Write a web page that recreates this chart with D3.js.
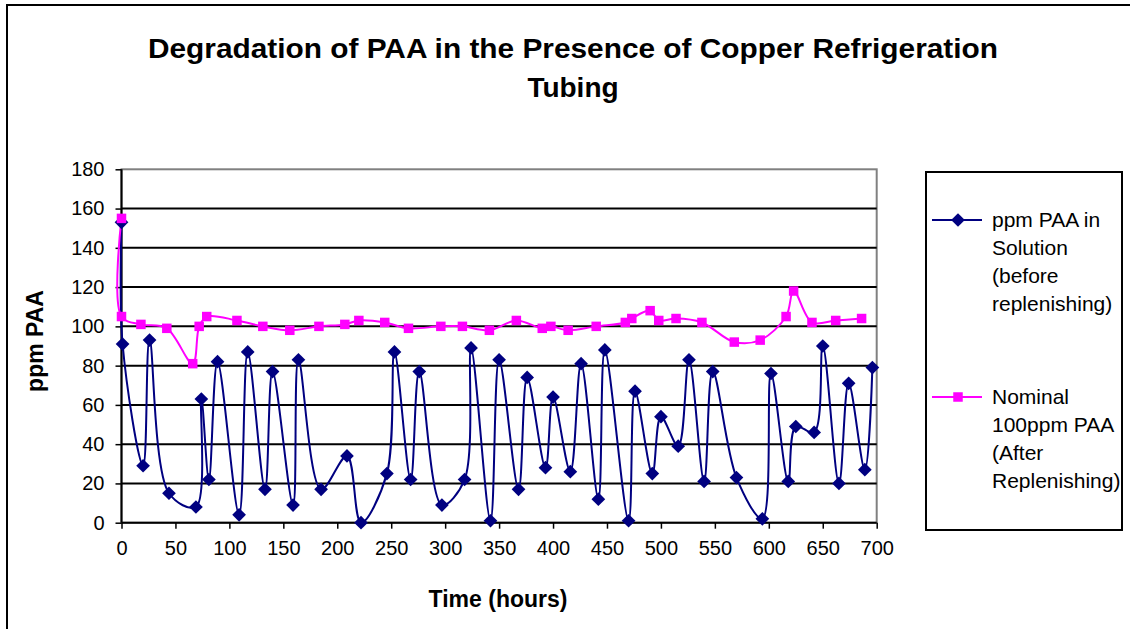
<!DOCTYPE html>
<html>
<head>
<meta charset="utf-8">
<script src="https://cdn.jsdelivr.net/npm/d3@7"></script>
<style>
  body { margin: 0; background: #fff; }
  svg text { font-family: "Liberation Sans", Arial, sans-serif; fill: #000; }
</style>
</head>
<body>
<svg id="chart" width="1130" height="629"></svg>
<script>
// ======== Data ========
var titleLines = ['Degradation of PAA in the Presence of Copper Refrigeration', 'Tubing'];
var xTicks = [0, 50, 100, 150, 200, 250, 300, 350, 400, 450, 500, 550, 600, 650, 700];
var yTicks = [0, 20, 40, 60, 80, 100, 120, 140, 160, 180];

// ppm PAA in solution (before replenishing)
var beforeHours = [0, 1, 20, 26, 44, 69, 74, 81, 89, 109, 117, 133, 140, 159, 164, 185, 209, 222, 246, 253,
    268, 276, 297, 318, 324, 342, 350, 368, 376, 393, 400, 416, 426, 442, 448, 470, 476, 492, 500, 516,
    526, 540, 548, 570, 594, 602, 618, 625, 642, 650, 665, 674, 689, 696];
var beforePpm = [153, 91, 29, 93, 15, 8, 63, 22, 82, 4, 87, 17, 77, 9, 83, 17, 34, 0, 25, 87,
    22, 77, 9, 22, 89, 1, 83, 17, 74, 28, 64, 26, 81, 12, 88, 1, 67, 25, 54, 39,
    83, 21, 77, 23, 2, 76, 21, 49, 46, 90, 20, 71, 27, 79];

// Nominal 100ppm PAA (after replenishing)
var afterHours = [0, 0, 18, 42, 66, 72, 79, 107, 131, 156, 183, 207, 220, 244, 266, 296, 316, 341, 366, 390,
    398, 414, 440, 467, 473, 490, 498, 514, 538, 568, 592, 616, 623, 640, 662, 686];
var afterPpm = [155, 105, 101, 99, 81, 100, 105, 103, 100, 98, 100, 101, 103, 102, 99, 100, 100, 98, 103, 99,
    100, 98, 100, 102, 104, 108, 103, 104, 102, 92, 93, 105, 118, 102, 103, 104];

var seriesNames = [
    ['ppm PAA in', 'Solution', '(before', 'replenishing)'],
    ['Nominal', '100ppm PAA', '(After', 'Replenishing)']
];

// ======== Layout ========
var svg = d3.select('#chart');
var plot = {left: 121.5, right: 876.7, top: 169.3, bottom: 522.7};

var x = d3.scaleLinear().domain([0, 700]).range([plot.left, plot.right]);
var y = d3.scaleLinear().domain([0, 180]).range([plot.bottom, plot.top]);

// outer chart frame (right/bottom edges fall outside the picture)
svg.append('rect')
    .attr('x', 7).attr('y', 5)
    .attr('width', 1140).attr('height', 640)
    .attr('fill', 'none')
    .attr('stroke', '#000')
    .attr('stroke-width', 2);

// title
svg.append('g').selectAll('text')
    .data(titleLines)
    .enter()
    .append('text')
    .attr('x', 573)
    .attr('y', function (d, i) { return 58 + i * 39; })
    .attr('text-anchor', 'middle')
    .attr('textLength', function (d, i) { return i === 0 ? 850 : null; })
    .attr('lengthAdjust', 'spacingAndGlyphs')
    .style('font-size', '28px')
    .style('font-weight', 'bold')
    .text(function (d) { return d; });

// plot area border
svg.append('rect')
    .attr('x', plot.left).attr('y', plot.top)
    .attr('width', plot.right - plot.left)
    .attr('height', plot.bottom - plot.top)
    .attr('fill', '#fff')
    .attr('stroke', '#808080')
    .attr('stroke-width', 2);

// horizontal gridlines
svg.append('g').selectAll('line')
    .data(yTicks.filter(function (d) { return d > 0 && d < 180; }))
    .enter()
    .append('line')
    .attr('x1', plot.left).attr('x2', plot.right)
    .attr('y1', y).attr('y2', y)
    .attr('stroke', '#000')
    .attr('stroke-width', 2);

// axes
var xAxis = d3.axisBottom(x).tickValues(xTicks).tickSize(6).tickPadding(12);
var yAxis = d3.axisLeft(y).tickValues(yTicks).tickSize(6).tickPadding(11);

var gx = svg.append('g')
    .attr('transform', 'translate(0,' + plot.bottom + ')')
    .call(xAxis);
var gy = svg.append('g')
    .attr('transform', 'translate(' + plot.left + ',0)')
    .call(yAxis);

[gx, gy].forEach(function (g) {
    g.select('.domain').attr('stroke', '#000').attr('stroke-width', 2);
    g.selectAll('.tick line').attr('stroke', '#000').attr('stroke-width', 1.5);
    g.selectAll('.tick text')
        .style('font-size', '20px')
        .style('font-family', '"Liberation Sans", Arial, sans-serif')
        .attr('fill', '#000');
});
gx.select('.domain').attr('d', 'M' + plot.left + ',0H' + plot.right);
gy.select('.domain').attr('d', 'M0,' + plot.bottom + 'V' + plot.top);

// axis titles
svg.append('text')
    .attr('x', 498).attr('y', 607)
    .attr('text-anchor', 'middle')
    .style('font-size', '23px')
    .style('font-weight', 'bold')
    .text('Time (hours)');

svg.append('text')
    .attr('transform', 'translate(43,341) rotate(-90)')
    .attr('text-anchor', 'middle')
    .style('font-size', '23px')
    .style('font-weight', 'bold')
    .text('ppm PAA');

// ======== Series ========
var beforeData = beforeHours.map(function (h, i) { return {h: h, v: beforePpm[i]}; });
var afterData = afterHours.map(function (h, i) { return {h: h, v: afterPpm[i]}; });

var line = d3.line()
    .x(function (d) { return x(d.h); })
    .y(function (d) { return y(d.v); })
    .curve(d3.curveCatmullRom.alpha(0.5));

var diamond = d3.symbol().type(d3.symbolDiamond2).size(120);
var square = d3.symbol().type(d3.symbolSquare2).size(115);

svg.append('path')
    .datum(beforeData)
    .attr('d', line)
    .attr('fill', 'none')
    .attr('stroke', '#000080')
    .attr('stroke-width', 2);

svg.append('path')
    .datum(afterData)
    .attr('d', line)
    .attr('fill', 'none')
    .attr('stroke', '#ff00ff')
    .attr('stroke-width', 2);

svg.append('g').selectAll('path')
    .data(beforeData)
    .enter()
    .append('path')
    .attr('transform', function (d) { return 'translate(' + x(d.h) + ',' + y(d.v) + ')'; })
    .attr('d', diamond)
    .attr('fill', '#000080');

svg.append('g').selectAll('path')
    .data(afterData)
    .enter()
    .append('path')
    .attr('transform', function (d) { return 'translate(' + x(d.h) + ',' + y(d.v) + ')'; })
    .attr('d', square)
    .attr('fill', '#ff00ff');

// ======== Legend ========
svg.append('rect')
    .attr('x', 926).attr('y', 172)
    .attr('width', 196).attr('height', 358)
    .attr('fill', '#fff')
    .attr('stroke', '#000')
    .attr('stroke-width', 2);

var legendItems = [
    {names: seriesNames[0], color: '#000080', symbol: diamond, cy: 220},
    {names: seriesNames[1], color: '#ff00ff', symbol: square, cy: 397}
];

legendItems.forEach(function (item) {
    var g = svg.append('g');
    g.append('line')
        .attr('x1', 932).attr('x2', 982)
        .attr('y1', item.cy).attr('y2', item.cy)
        .attr('stroke', item.color)
        .attr('stroke-width', 2);
    g.append('path')
        .attr('transform', 'translate(958,' + item.cy + ')')
        .attr('d', item.symbol)
        .attr('fill', item.color);
    g.selectAll('text')
        .data(item.names)
        .enter()
        .append('text')
        .attr('x', 992)
        .attr('y', function (d, i) { return item.cy + 7 + i * 28; })
        .style('font-size', '21px')
        .text(function (d) { return d; });
});
</script>
</body>
</html>
